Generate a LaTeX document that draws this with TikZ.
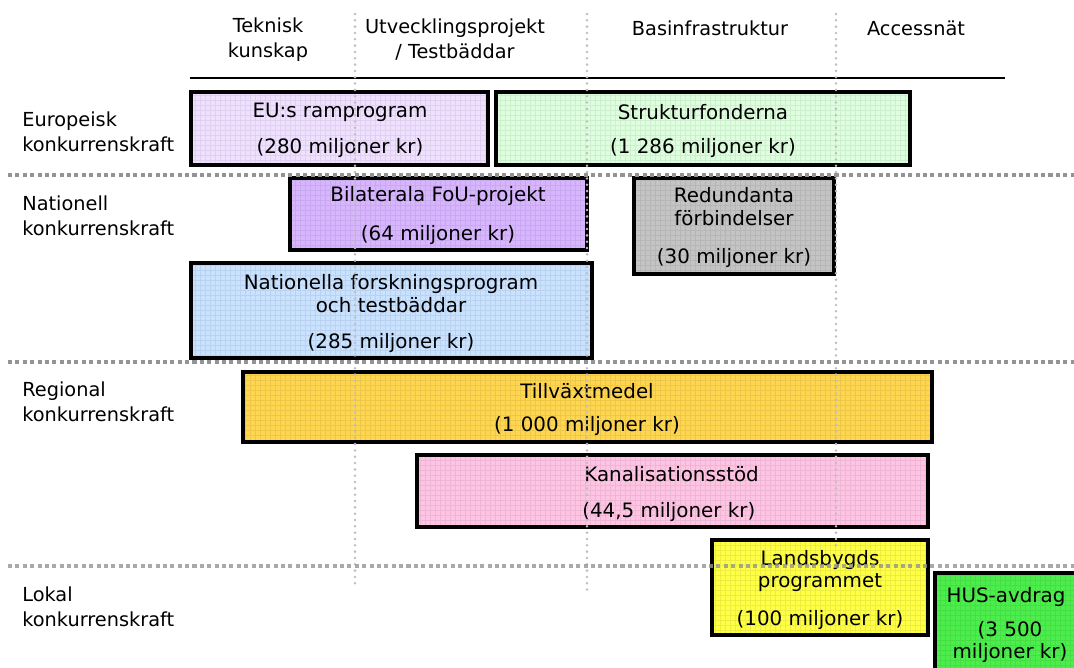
\documentclass[tikz,border=0pt]{standalone}
\usepackage{fontspec}
\setmainfont{DejaVu Sans}
\definecolor{euviolet}{RGB}{240,224,255}
\definecolor{strgreen}{RGB}{222,255,222}
\definecolor{bilviolet}{RGB}{216,182,255}
\definecolor{redgray}{RGB}{196,196,196}
\definecolor{natblue}{RGB}{200,226,255}
\definecolor{tillgold}{RGB}{255,214,80}
\definecolor{kanpink}{RGB}{255,196,228}
\definecolor{landyellow}{RGB}{255,255,70}
\definecolor{husgreen}{RGB}{76,238,76}
\begin{document}
\begin{tikzpicture}[x=0.02cm, y=-0.02cm,
  head/.style={font=\fontsize{11}{14.2}\selectfont, inner sep=0pt, align=center},
  rowlbl/.style={font=\fontsize{11}{14.2}\selectfont, inner sep=0pt, align=left, anchor=west},
  txt/.style={font=\fontsize{11.3}{13}\selectfont, inner sep=0pt, align=center},
  fund/.style={draw=black, line width=2.2pt, fill=#1,
    path picture={\draw[#1!93!black, line width=0.25pt, step=0.1cm]
      (path picture bounding box.south west) grid (path picture bounding box.north east);}},
  sep/.style={draw=black!42, line width=2pt, dash pattern=on 2.3pt off 1.9pt},
  col/.style={draw=black!25, line width=1.6pt, line cap=round, dash pattern=on 0pt off 3.6pt},
]
  \useasboundingbox[fill=white] (0,0) rectangle (1074,668);
  \clip (0,0) rectangle (1074,668);

  % column heads
  \node[head] (tek) at (268,40) {Teknisk\\kunskap};
  \node[head] (utv) at (455,40) {Utvecklingsprojekt\\/ Testbäddar};
  \node[head] (bas) at (710,28) {Basinfrastruktur};
  \node[head] (acc) at (916,28) {Accessnät};
  \draw[line width=0.6pt] (190,78) -- (1005,78);

  % row labels
  \node[rowlbl] (eur) at (22,132) {Europeisk\\konkurrenskraft};
  \node[rowlbl] (nat) at (22,216) {Nationell\\konkurrenskraft};
  \node[rowlbl] (reg) at (22,402) {Regional\\konkurrenskraft};
  \node[rowlbl] (lok) at (22,607) {Lokal\\konkurrenskraft};

  % funding boxes
  \draw[fund=euviolet] (191,92) rectangle (488,165);
  \node[txt] (eu) at (340,112) {EU:s ramprogram};
  \node[txt] (euamt) at (340,148) {(280 miljoner kr)};

  \draw[fund=strgreen] (496,92) rectangle (910,165);
  \node[txt] (str) at (703,112) {Strukturfonderna};
  \node[txt] (stramt) at (703,148) {(1 286 miljoner kr)};

  \draw[fund=bilviolet] (290,178) rectangle (587,250);
  \node[txt] (bil) at (438,196) {Bilaterala FoU-projekt};
  \node[txt] (bilamt) at (438,235) {(64 miljoner kr)};

  \draw[fund=redgray] (634,178) rectangle (834,274);
  \node[txt] (red) at (734,207) {Redundanta\\förbindelser};
  \node[txt] (redamt) at (734,258) {(30 miljoner kr)};

  \draw[fund=natblue] (191,263) rectangle (592,358);
  \node[txt] (nfp) at (391,294) {Nationella forskningsprogram\\och testbäddar};
  \node[txt] (nfpamt) at (391,343) {(285 miljoner kr)};

  \draw[fund=tillgold] (243,372) rectangle (932,442);
  \node[txt] (till) at (587,391) {Tillväxtmedel};
  \node[txt] (tillamt) at (587,426) {(1 000 miljoner kr)};

  \draw[fund=kanpink] (417,455) rectangle (928,527);
  \node[txt, anchor=west] (kan) at (584,474) {Kanalisationsstöd};
  \node[txt, anchor=west] (kanamt) at (582,512) {(44,5 miljoner kr)};

  \draw[fund=landyellow] (712,540) rectangle (928,635);
  \node[txt] (land) at (820,571) {Landsbygds\\programmet};
  \node[txt] (landamt) at (820,620) {(100 miljoner kr)};

  \draw[fund=husgreen] (935,573) rectangle (1100,700);
  \node[txt] (hus) at (1006,597) {HUS-avdrag};
  \node[txt] (husamt) at (1010,642) {(3 500\\miljoner kr)};

  % column and row separators
  \draw[col] (355,14) -- (355,588);
  \draw[col] (587,14) -- (587,590);
  \draw[col] (836,14) -- (836,550);
  \draw[sep] (8,175) -- (1074,175);
  \draw[sep] (8,362) -- (1074,362);
  \draw[sep, opacity=0.8] (8,566) -- (1074,566);
\end{tikzpicture}
\end{document}
